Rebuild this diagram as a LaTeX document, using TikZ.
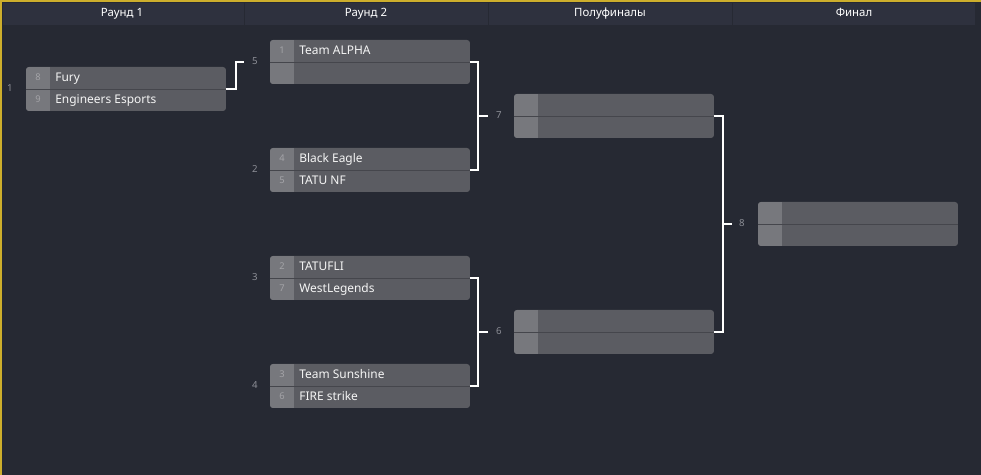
\documentclass[tikz,border=0pt]{standalone}
\usepackage{fontspec}
\setmainfont{Noto Sans}
\definecolor{pagebg}{HTML}{262933}
\definecolor{headbg}{HTML}{2E313E}
\definecolor{gold}{HTML}{CDAE2C}
\definecolor{boxmain}{HTML}{5B5C62}
\definecolor{seedcol}{HTML}{77787D}
\definecolor{rowline}{HTML}{45464C}
\definecolor{seedtxt}{HTML}{A4A4A8}
\definecolor{numtxt}{HTML}{8C8E96}

\begin{document}
\begin{tikzpicture}[
  x=0.02cm, y=-0.02cm,
  matchbox/.style={fill=boxmain, rounded corners=1.7pt, minimum width=4cm,
                   minimum height=0.88cm, inner sep=0pt},
  headtxt/.style={anchor=base, inner sep=0pt, text=white, font=\fontsize{6.5}{7}\selectfont\bfseries},
  teamtxt/.style={anchor=base west, inner sep=0pt, text=white!96!black, font=\fontsize{6.8}{7}\selectfont},
  seedno/.style={anchor=base, inner sep=0pt, text=seedtxt, font=\fontsize{5.3}{6}\selectfont},
  matchno/.style={anchor=base, inner sep=0pt, text=numtxt, font=\fontsize{5.5}{6}\selectfont},
  bracket/.style={draw=white, line width=1.1pt}
]
  % page and frame
  \useasboundingbox (0,0) rectangle (981,475);
  \fill[pagebg] (0,0) rectangle (981,475);
  \fill[gold] (0,0) rectangle (981,2.5);
  \fill[gold] (0,0) rectangle (2.5,475);

  % header row
  \fill[headbg] (3,3) rectangle (975,25);
  \foreach \sx in {244,488,732}
    \draw[pagebg, line width=0.5pt] (\sx,3) -- (\sx,25);
  \foreach \lbl [count=\i] in {Раунд 1, Раунд 2, Полуфиналы, Финал}
    \node[headtxt] (head\i) at (244*\i-122,17) {\lbl};

  % matches: name / left / top / seed / team / seed / team
  \foreach \id/\x/\y/\sa/\ta/\sb/\tb in {
      m1/26/67/8/Fury/9/Engineers Esports,
      m5/270/40/1/Team ALPHA//,
      m2/270/148/4/Black Eagle/5/TATU NF,
      m3/270/256/2/TATUFLI/7/WestLegends,
      m4/270/364/3/Team Sunshine/6/FIRE strike,
      m7/514/94////,
      m6/514/310////,
      m8/758/202////}{
    \node[matchbox] (\id) at (\x+100,\y+22) {};
    \begin{scope}
      \clip[rounded corners=1.7pt] (\x,\y) rectangle ++(200,44);
      \fill[seedcol] (\x,\y) rectangle ++(24,44);
    \end{scope}
    \draw[rowline, line width=0.5pt] (\id.west) -- (\id.east);
    \node[seedno] (\id sa) at (\x+12,\y+14) {\sa};
    \node[seedno] (\id sb) at (\x+12,\y+36) {\sb};
    \node[teamtxt] (\id ta) at (\x+29,\y+15) {\ta};
    \node[teamtxt] (\id tb) at (\x+29,\y+37) {\tb};
  }

  % match numbers
  \foreach \n/\x/\y in {1/10/92, 5/255/65, 2/255/173, 3/255/281, 4/255/389,
                        7/499/119, 6/499/335, 8/742/227}
    \node[matchno] (n\n) at (\x,\y) {\n};

  % bracket joints and stubs
  \coordinate (s5) at (244,62);
  \coordinate (j7) at (478,116);
  \coordinate (s7) at (488,116);
  \coordinate (j6) at (478,332);
  \coordinate (s6) at (488,332);
  \coordinate (j8) at (723,224);
  \coordinate (s8) at (732,224);

  % connectors
  \draw[bracket] (m1.east) -- ++(10,0) |- (s5);
  \draw[bracket] (m5.east) -| (j7) |- (m2.east);
  \draw[bracket] (j7) -- (s7);
  \draw[bracket] (m3.east) -| (j6) |- (m4.east);
  \draw[bracket] (j6) -- (s6);
  \draw[bracket] (m7.east) -| (j8) |- (m6.east);
  \draw[bracket] (j8) -- (s8);
\end{tikzpicture}
\end{document}
